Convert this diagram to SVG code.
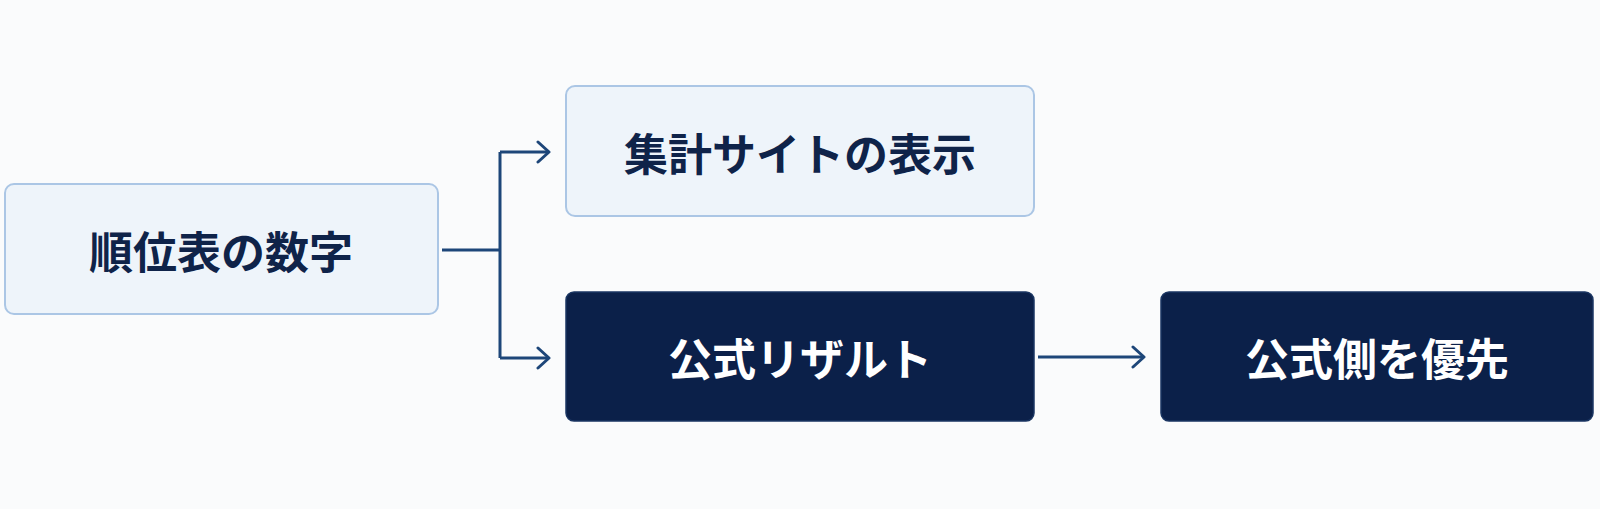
<svg xmlns="http://www.w3.org/2000/svg" width="1600" height="509" viewBox="0 0 1600 509">
<defs>
<style>
.light{fill:#eef4fa;stroke:#abc6e5;stroke-width:2}
.dark{fill:#0b2049;stroke:#1a3562;stroke-width:1.5}
.t{font-family:"Noto Sans CJK JP","Noto Sans CJK SC",sans-serif;font-weight:700;font-size:44px;text-anchor:middle;dominant-baseline:central}
.tl{fill:#0f2349}
.td{fill:#ffffff}
.c{fill:none;stroke:#1d4679;stroke-width:3;stroke-linejoin:miter}
</style>
<marker id="ah" viewBox="0 0 16 24" refX="14" refY="12" markerWidth="16" markerHeight="24" markerUnits="userSpaceOnUse" orient="auto">
<path d="M3,2 L14,12 L3,22" fill="none" stroke="#1d4679" stroke-width="3" stroke-linecap="round" stroke-linejoin="round"/>
</marker>
</defs>
<rect width="1600" height="509" fill="#fafbfc"/>
<g id="connectors">
<path class="c" d="M442,250 H500"/>
<path class="c" d="M500,152 V358"/>
<path class="c" d="M500,152 H549" marker-end="url(#ah)"/>
<path class="c" d="M500,358 H549" marker-end="url(#ah)"/>
<path class="c" d="M1038,357 H1144" marker-end="url(#ah)"/>
</g>
<g id="node-ranking">
<rect class="light" x="5" y="184" width="433" height="130" rx="9"/>
<text class="t tl" x="221" y="250">順位表の数字</text>
</g>
<g id="node-aggregate">
<rect class="light" x="566" y="86" width="468" height="130" rx="9"/>
<text class="t tl" x="800" y="152">集計サイトの表示</text>
</g>
<g id="node-official">
<rect class="dark" x="566" y="292" width="468" height="129" rx="8"/>
<text class="t td" x="800" y="357">公式リザルト</text>
</g>
<g id="node-priority">
<rect class="dark" x="1161" y="292" width="432" height="129" rx="8"/>
<text class="t td" x="1377" y="357">公式側を優先</text>
</g>
</svg>
